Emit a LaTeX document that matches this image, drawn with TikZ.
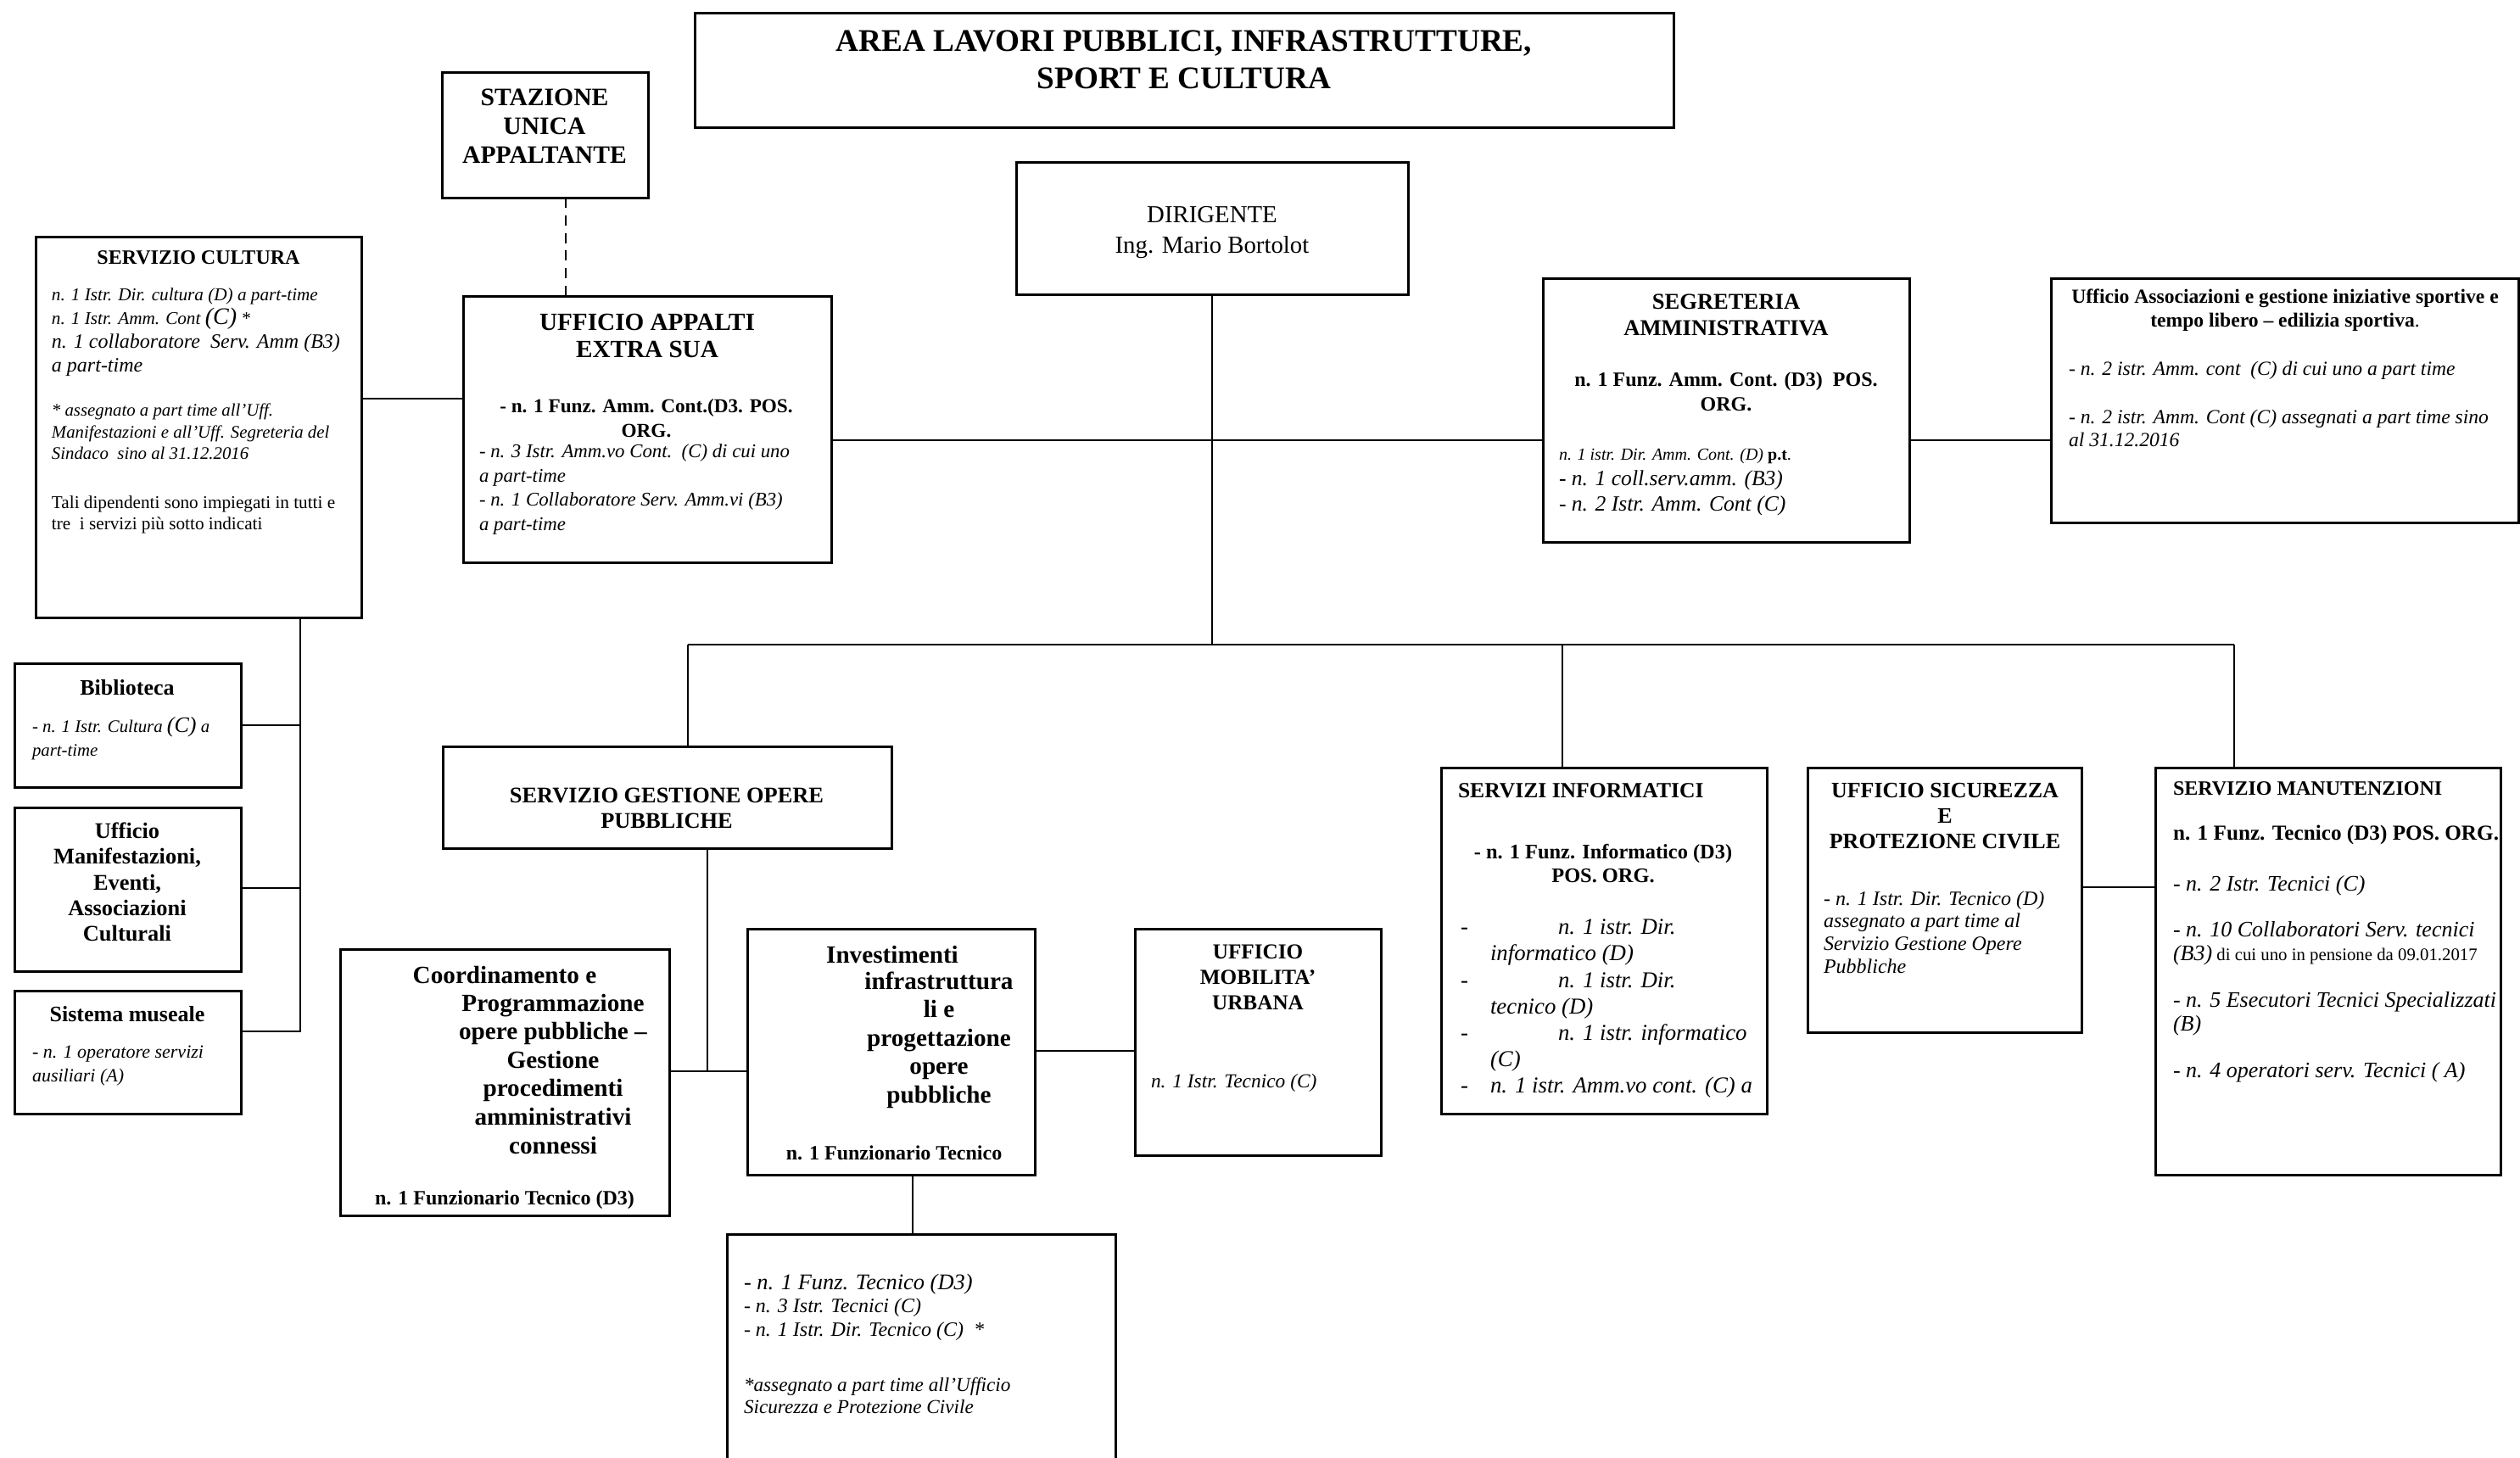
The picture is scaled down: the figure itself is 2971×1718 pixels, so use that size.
\documentclass[tikz,border=0pt]{standalone}
\usepackage{fontspec}
\setmainfont{Liberation Serif}
\newcommand\fs[2]{\fontsize{#1pt}{#2pt}\selectfont}
\begin{document}
\begin{tikzpicture}[x=0.25pt,y=-0.25pt,
  box/.style={draw, line width=0.75pt, anchor=north west, inner sep=0pt, outer sep=0pt},
  link/.style={line width=0.55pt},
  txt/.style={inner sep=0pt, outer sep=0pt},
  tl/.style={txt, anchor=west, align=left},
  tc/.style={txt, anchor=center, align=center},
]
\useasboundingbox (0,0) rectangle (2971,1718);
\clip (0,0) rectangle (2971,1718);

% ---------- boxes ----------
\node[box, minimum width=288.5pt, minimum height=33.75pt] (title) at (819,15) {};
\node[box, minimum width=60.75pt, minimum height=37pt] (sua) at (521,85) {};
\node[box, minimum width=115.5pt, minimum height=39pt] (dir) at (1198,191) {};
\node[box, minimum width=96pt, minimum height=112.25pt] (cult) at (42,279) {};
\node[box, minimum width=108.5pt, minimum height=78.5pt] (app) at (546,349) {};
\node[box, minimum width=108pt, minimum height=77.75pt] (seg) at (1819,328) {};
\node[box, minimum width=137.75pt, minimum height=72pt] (assoc) at (2418,328) {};
\node[box, minimum width=66.75pt, minimum height=36.5pt] (bib) at (17,782) {};
\node[box, minimum width=66.75pt, minimum height=48.25pt] (man) at (17,952) {};
\node[box, minimum width=66.75pt, minimum height=36.25pt] (mus) at (17,1168) {};
\node[box, minimum width=132.25pt, minimum height=30pt] (sgop) at (522,880) {};
\node[box, minimum width=97pt, minimum height=78.5pt] (coord) at (401,1119) {};
\node[box, minimum width=84.75pt, minimum height=72.5pt] (inv) at (881,1095) {};
\node[box, minimum width=72.5pt, minimum height=66.75pt] (mob) at (1338,1095) {};
\node[box, minimum width=114.5pt, minimum height=86.25pt] (bot) at (857,1455) {};
\node[box, minimum width=96pt, minimum height=102pt] (info) at (1699,905) {};
\node[box, minimum width=80.75pt, minimum height=78pt] (sic) at (2131,905) {};
\node[box, minimum width=101.75pt, minimum height=120pt] (mnt) at (2541,905) {};

% ---------- connectors ----------
\coordinate (dS) at (667,0);
\coordinate (hA) at (0,519);
\coordinate (hB) at (0,470);
\coordinate (busL) at (811,760);
\coordinate (busR) at (2634,760);
\coordinate (dI) at (1842,760);
\coordinate (cv) at (354,0);
\coordinate (sv) at (834,1263);
\coordinate (iv) at (1076,0);

\draw[link, dashed, dash pattern=on 3pt off 2.2pt] (sua.south -| dS) -- (app.north -| dS);
\draw[link] (cult.east |- hB) -- (app.west |- hB);
\draw[link] (app.east |- hA) -- (seg.west |- hA);
\draw[link] (seg.east |- hA) -- (assoc.west |- hA);
\draw[link] (dir.south) -- (dir.south |- busL);
\draw[link] (busL) -- (busR);
\draw[link] (busL) -- (sgop.north -| busL);
\draw[link] (dI) -- (info.north -| dI);
\draw[link] (busR) -- (mnt.north -| busR);

\draw[link] (cult.south -| cv) |- (mus.east |- 0,1216);
\draw[link] (bib.east |- 0,855) -- (cv |- 0,855);
\draw[link] (man.east |- 0,1047) -- (cv |- 0,1047);

\draw[link] (sgop.south -| sv) -- (sv);
\draw[link] (coord.east |- sv) -- (inv.west |- sv);
\draw[link] (inv.east |- 0,1239) -- (mob.west |- 0,1239);
\draw[link] (inv.south -| iv) -- (bot.north -| iv);
\draw[link] (sic.east |- 0,1046) -- (mnt.west |- 0,1046);

% ---------- texts ----------
\node[tc, font=\fs{9.3}{11}\bfseries] (titleT) at (1396,70) {AREA LAVORI PUBBLICI, INFRASTRUTTURE,\\SPORT E CULTURA};
\node[tc, font=\fs{7.4}{8.5}\bfseries] (suaT) at (642,149) {STAZIONE\\UNICA\\APPALTANTE};
\node[tc, font=\fs{7.2}{9}] (dirT) at (1429,274) {DIRIGENTE\\Ing. Mario Bortolot};

\node[tc, font=\fs{6}{7}\bfseries] (cultT) at (234,304) {SERVIZIO CULTURA};
\node[tl, font=\fs{6}{7}\itshape] (cultA) at (61,392) {{\fs{5.3}{7}n. 1 Istr. Dir. cultura (D) a part-time}\\{\fs{5.3}{7}n. 1 Istr. Amm. Cont }{\fs{7}{7}(C)}{\fs{5.3}{7} *}\\n. 1 collaboratore\ \ Serv. Amm (B3)\\a part-time};
\node[tl, font=\fs{5.2}{6.3}\itshape] (cultB) at (61,509) {* assegnato a part time all'Uff.\\Manifestazioni e all'Uff. Segreteria del\\Sindaco\ \ sino al 31.12.2016};
\node[tl, font=\fs{5.3}{6.3}] (cultC) at (61,607) {Tali dipendenti sono impiegati in tutti e\\tre\ \ i servizi più sotto indicati};

\node[tc, font=\fs{7.3}{8}\bfseries] (appT) at (763,396) {UFFICIO APPALTI\\EXTRA SUA};
\node[tc, font=\fs{5.8}{7.2}\bfseries] (appB) at (762,493) {- n. 1 Funz. Amm. Cont.(D3. POS.\\ORG.};
\node[tl, font=\fs{5.7}{7.2}\itshape] (appI) at (565,577) {- n. 3 Istr. Amm.vo Cont.\ \ (C) di cui uno\\a part-time\\- n. 1 Collaboratore Serv. Amm.vi (B3)\\a part-time};

\node[tc, font=\fs{6.65}{7.75}\bfseries] (segT) at (2035,371) {SEGRETERIA\\AMMINISTRATIVA};
\node[tc, font=\fs{6}{7.25}\bfseries] (segB) at (2035,462) {n. 1 Funz. Amm. Cont. (D3)\ \ POS.\\ORG.};
\node[tl, font=\fs{6.4}{7.5}\itshape] (segI) at (1838,568) {{\fs{5}{7.5}n. 1 istr. Dir. Amm. Cont. (D) {\upshape\bfseries p.t}\upshape.}\\- n. 1 coll.serv.amm. (B3)\\- n. 2 Istr. Amm. Cont (C)};

\node[tc, font=\fs{5.9}{7}\bfseries] (asT) at (2694,366) {Ufficio Associazioni e gestione iniziative sportive e\\tempo libero -- edilizia sportiva{\mdseries .}};
\node[tl, font=\fs{5.9}{6.6}\itshape] (asA) at (2439,437) {- n. 2 istr. Amm. cont\ \ (C) di cui uno a part time};
\node[tl, font=\fs{5.9}{6.6}\itshape] (asB) at (2439,505) {- n. 2 istr. Amm. Cont (C) assegnati a part time sino\\al 31.12.2016};

\node[tc, font=\fs{6.5}{7}\bfseries] (bibT) at (150,811) {Biblioteca};
\node[tl, font=\fs{5.2}{7}\itshape] (bibI) at (38,871) {- n. 1 Istr. Cultura {\fs{6.5}{7}(C)} a\\part-time};
\node[tc, font=\fs{6.6}{7.6}\bfseries] (manT) at (150,1040) {Ufficio\\Manifestazioni,\\Eventi,\\Associazioni\\Culturali};
\node[tc, font=\fs{6.5}{7}\bfseries] (musT) at (150,1196) {Sistema museale};
\node[tl, font=\fs{5.5}{7}\itshape] (musI) at (38,1257) {- n. 1 operatore servizi\\ausiliari (A)};

\node[tc, font=\fs{6.6}{7.6}\bfseries] (sgopT) at (786,953) {SERVIZIO GESTIONE OPERE\\PUBBLICHE};
\node[tc, font=\fs{7.3}{8.4}\bfseries] (coA) at (595,1149) {Coordinamento e};
\node[tc, font=\fs{7.3}{8.4}\bfseries] (coB) at (652,1266) {Programmazione\\opere pubbliche --\\Gestione\\procedimenti\\amministrativi\\connessi};
\node[tc, font=\fs{6}{7}\bfseries] (coC) at (595,1415) {n. 1 Funzionario Tecnico (D3)};
\node[tc, font=\fs{7.3}{8.4}\bfseries] (invA) at (1052,1125) {Investimenti};
\node[tc, font=\fs{7.3}{8.4}\bfseries] (invB) at (1107,1226) {infrastruttura\\li e\\progettazione\\opere\\pubbliche};
\node[tc, font=\fs{6}{7}\bfseries] (invC) at (1054,1359) {n. 1 Funzionario Tecnico};

\node[tc, font=\fs{6.3}{7.5}\bfseries] (mobT) at (1483,1152) {UFFICIO\\MOBILITA'\\URBANA};
\node[tl, font=\fs{5.85}{7}\itshape] (mobI) at (1357,1277) {n. 1 Istr. Tecnico (C)};

\node[tl, font=\fs{6}{6.9}\itshape] (botA) at (877,1541) {{\fs{6.6}{6.9}- n. 1 Funz. Tecnico (D3)}\\- n. 3 Istr. Tecnici (C)\\- n. 1 Istr. Dir. Tecnico (C)\ \ *};
\node[tl, font=\fs{5.8}{6.5}\itshape] (botB) at (877,1645) {*assegnato a part time all'Ufficio\\Sicurezza e Protezione Civile};

\node[tl, font=\fs{6.4}{7}\bfseries] (infT) at (1719,932) {SERVIZI INFORMATICI};
\node[tc, font=\fs{6.1}{7}\bfseries] (infB) at (1890,1018) {- n. 1 Funz. Informatico (D3)\\POS. ORG.};
\node[tl, font=\fs{6.7}{7.8}] (infD) at (1722,1189) {\strut-\\\strut\\\strut-\\\strut\\\strut-\\\strut\\\strut-};
\node[tl, font=\fs{6.7}{7.8}\itshape] (infI) at (1757,1189) {\strut\hspace*{20pt}n. 1 istr. Dir.\\informatico (D)\\\hspace*{20pt}n. 1 istr. Dir.\\tecnico (D)\\\hspace*{20pt}n. 1 istr. informatico\\(C)\\\strut n. 1 istr. Amm.vo cont. (C) a};

\node[tc, font=\fs{6.5}{7.5}\bfseries] (sicT) at (2293,962) {UFFICIO SICUREZZA\\E\\PROTEZIONE CIVILE};
\node[tl, font=\fs{6}{6.7}\itshape] (sicI) at (2150,1099) {- n. 1 Istr. Dir. Tecnico (D)\\assegnato a part time al\\Servizio Gestione Opere\\Pubbliche};

\node[tl, font=\fs{6}{7}\bfseries] (mntT) at (2562,930) {SERVIZIO MANUTENZIONI};
\node[tl, font=\fs{6.3}{7}\bfseries] (mntB) at (2562,984) {n. 1 Funz. Tecnico (D3) POS. ORG.};
\node[tl, font=\fs{6.5}{6.9}\itshape] (mntI1) at (2562,1044) {- n. 2 Istr. Tecnici (C)};
\node[tl, font=\fs{6.5}{6.9}\itshape] (mntI2) at (2562,1112) {- n. 10 Collaboratori Serv. tecnici\\(B3){\upshape\fs{5.2}{6.9} di cui uno in pensione da 09.01.2017}};
\node[tl, font=\fs{6.5}{6.9}\itshape] (mntI3) at (2562,1195) {- n. 5 Esecutori Tecnici Specializzati\\(B)};
\node[tl, font=\fs{6.5}{6.9}\itshape] (mntI4) at (2562,1264) {- n. 4 operatori serv. Tecnici ( A)};
\end{tikzpicture}
\end{document}
